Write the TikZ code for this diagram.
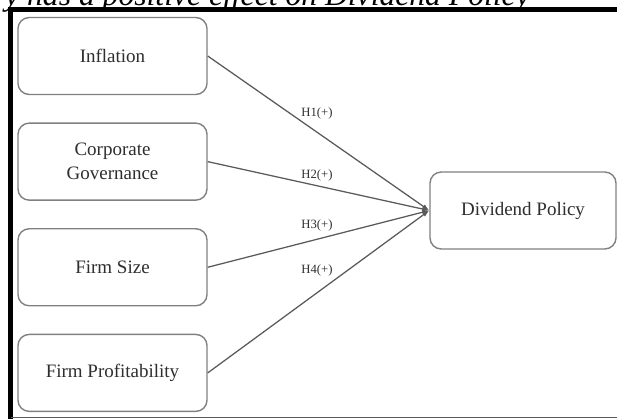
\documentclass[tikz,border=0pt]{standalone}
\usepackage{fontspec}
\setmainfont{Liberation Serif}
\usetikzlibrary{arrows.meta,positioning}
\definecolor{boxgray}{HTML}{808080}
\definecolor{txtgray}{HTML}{2E2E2E}
\definecolor{lnkgray}{HTML}{5A5A5A}
\tikzset{
  var/.style={draw=boxgray, line width=1pt, rounded corners=8pt, fill=white, minimum width=4.725cm, minimum height=1.925cm, align=center, font=\fontsize{13.5}{17}\selectfont, text=txtgray},
  hyp/.style={font=\fontsize{9}{11}\selectfont, text=txtgray, inner sep=1pt},
  link/.style={draw=lnkgray, line width=0.9pt, -{Latex[length=5pt,width=3.5pt]}},
  frm/.style={draw=black, line width=3.5pt}
}
\begin{document}
\begin{tikzpicture}[x=0.025cm, y=-0.025cm]
\useasboundingbox (0,0) rectangle (617,419);
\begin{scope}
  \clip (0,0) rectangle (617,419);
  \node[anchor=base east, inner sep=0pt, font=\fontsize{22.5}{26}\selectfont\itshape] (ttl) at (530,6) {y has a positive effect on Dividend Policy};
\end{scope}
% frame
\draw[frm] (10.5,419) -- (10.5,9.5) -- (617,9.5);
\draw[draw=gray!70!black, line width=1pt] (10.5,417.5) -- (617,417.5);

\node[var] (inf) at (112.5,56) {Inflation};
\node[var, below=0.68cm of inf] (cg) {Corporate\\Governance};
\node[var, below=0.68cm of cg] (fs) {Firm Size};
\node[var, below=0.68cm of fs] (fp) {Firm Profitability};
\node[var, minimum width=4.65cm] (dp) at (523,210.5) {Dividend Policy};

\draw[link] (inf.east) -- (dp.west);
\draw[link] (cg.east) -- (dp.west);
\draw[link] (fs.east) -- (dp.west);
\draw[link] (fp.east) -- (dp.west);

\node[hyp] (h1) at (317,113) {H1(+)};
\node[hyp] (h2) at (317,175) {H2(+)};
\node[hyp] (h3) at (317,225) {H3(+)};
\node[hyp] (h4) at (317,270) {H4(+)};
\end{tikzpicture}
\end{document}
